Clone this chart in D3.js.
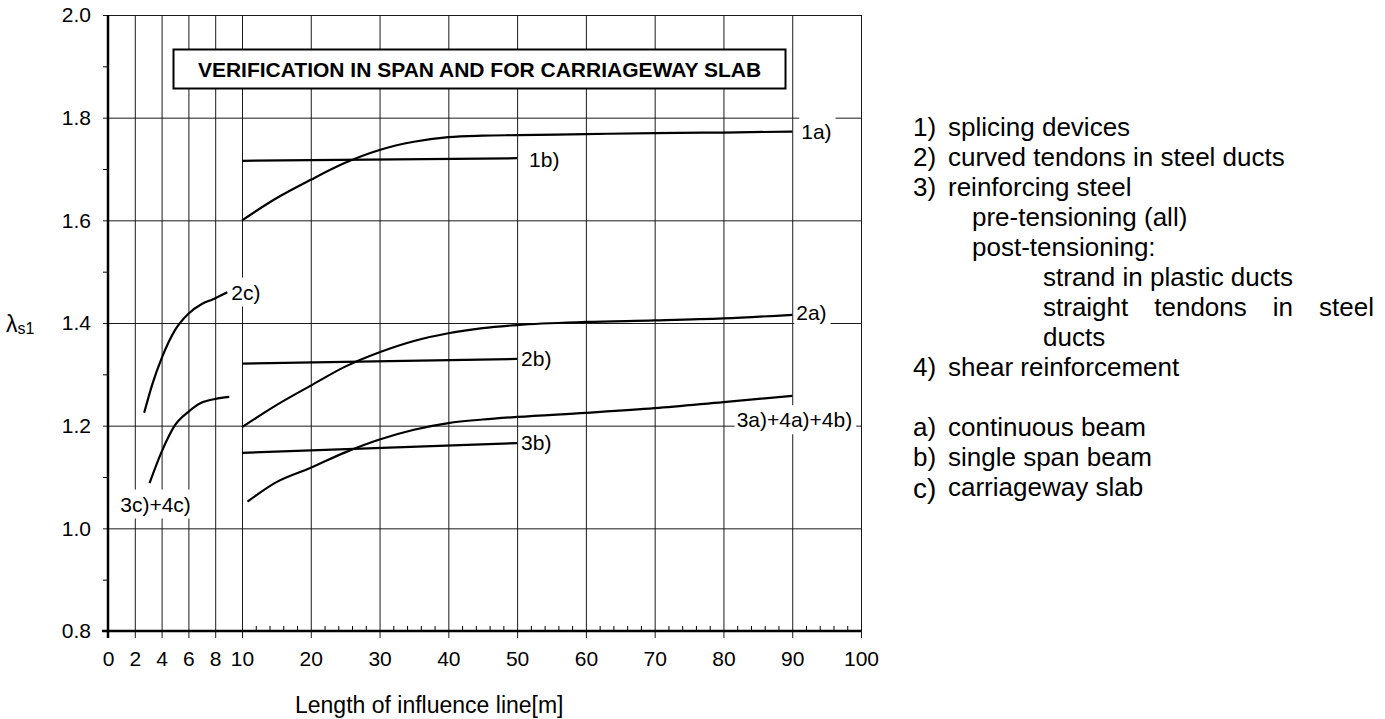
<!DOCTYPE html>
<html>
<head>
<meta charset="utf-8">
<script src="https://cdn.jsdelivr.net/npm/d3@7"></script>
<style>
  body { margin: 0; background: #fff; }
  text { font-family: "Liberation Sans", Arial, Helvetica, sans-serif; fill: #000; }
</style>
</head>
<body>
<svg id="chart" width="1385" height="719"></svg>
<script>
// ---- axis ticks ----
const xTicks = [0, 2, 4, 6, 8, 10, 20, 30, 40, 50, 60, 70, 80, 90, 100];
const yTicks = [0.8, 1.0, 1.2, 1.4, 1.6, 1.8, 2.0];

// ---- curves: [length of influence line (m), lambda_s1] ----
const curve1a = [[10, 1.600], [15, 1.643], [20, 1.679], [25, 1.712], [30, 1.737], [35, 1.753],
                 [40, 1.762], [45, 1.765], [50, 1.766], [60, 1.768], [70, 1.770], [80, 1.771], [90, 1.773]];
const curve1b = [[10, 1.716], [50, 1.721]];
const curve2a = [[10, 1.197], [15, 1.240], [20, 1.278], [25, 1.315], [30, 1.343], [35, 1.365],
                 [40, 1.380], [45, 1.390], [50, 1.396], [60, 1.402], [70, 1.405], [80, 1.409], [90, 1.416]];
const curve2b = [[10, 1.321], [50, 1.330]];
const curve2c = [[2.7, 1.225], [3.3, 1.280], [4, 1.331], [5, 1.386], [6, 1.418], [7, 1.437], [7.8, 1.446], [8.9, 1.460]];
const curve3a = [[10.8, 1.052], [15, 1.090], [20, 1.118], [25, 1.148], [30, 1.173], [35, 1.192],
                 [40, 1.205], [45, 1.212], [50, 1.217], [60, 1.225], [70, 1.234], [80, 1.246], [90, 1.258]];
const curve3b = [[10, 1.147], [50, 1.166]];
const curve3c = [[3.1, 1.088], [4, 1.149], [5, 1.201], [6, 1.227], [7, 1.245], [8, 1.252], [9.05, 1.256]];

const curveNames = ["1a)", "1b)", "2a)", "2b)", "2c)", "3a)+4a)+4b)", "3b)", "3c)+4c)"];
const curveData = [curve1a, curve1b, curve2a, curve2b, curve2c, curve3a, curve3b, curve3c];

const chartTitle = "VERIFICATION IN SPAN AND FOR CARRIAGEWAY SLAB";
const xTitle = "Length of influence line[m]";

// legend rows: marker, text, indent level
const legendMarkers = ["1)", "2)", "3)", "", "", "", "", "", "4)", "", "a)", "b)", "c)"];
const legendTexts = ["splicing devices", "curved tendons in steel ducts", "reinforcing steel",
  "pre-tensioning (all)", "post-tensioning:", "strand in plastic ducts",
  "straight tendons in steel", "ducts", "shear reinforcement", "",
  "continuous beam", "single span beam", "carriageway slab"];
const legendLevels = [0, 0, 0, 1, 1, 2, 2, 2, 0, 0, 0, 0, 0];

// ---- layout ----
const svg = d3.select("#chart");
const plotL = 108, plotR = 861, plotT = 15, plotB = 631;
const x = d3.scaleLinear().domain([0, 10, 100]).range([plotL, 242, plotR]);
const y = d3.scaleLinear().domain([0.8, 2.0]).range([plotB, plotT]);
const FS = 21;      // chart text
const LFS = 26;     // side notes

// vertical grid lines (running slightly below the axis as ticks)
svg.append("g")
  .attr("transform", `translate(0,${plotB + 7})`)
  .call(d3.axisBottom(x).tickValues(xTicks.slice(1)).tickSize(-(plotB + 7 - plotT)).tickSizeOuter(0).tickFormat(""))
  .call(g => g.select(".domain").remove())
  .call(g => g.selectAll("line").attr("stroke", "#1a1a1a").attr("stroke-width", 1));

// horizontal grid lines (running slightly left of the axis as ticks)
svg.append("g")
  .attr("transform", `translate(${plotL - 5},0)`)
  .call(d3.axisLeft(y).tickValues(yTicks).tickSize(-(plotR - plotL + 5)).tickSizeOuter(0).tickFormat(""))
  .call(g => g.select(".domain").remove())
  .call(g => g.selectAll("line").attr("stroke", "#1a1a1a").attr("stroke-width", 1));

// minor ticks on x axis (inside)
const xMinor = d3.range(12, 100, 2).filter(v => v % 10 !== 0);
svg.append("g")
  .attr("transform", `translate(0,${plotB})`)
  .call(d3.axisBottom(x).tickValues(xMinor).tickSize(-5).tickSizeOuter(0).tickFormat(""))
  .call(g => g.select(".domain").remove())
  .call(g => g.selectAll("line").attr("stroke", "#000"));

// minor ticks on y axis (outside)
const yMinor = d3.range(0.9, 2.0, 0.2);
svg.append("g")
  .attr("transform", `translate(${plotL},0)`)
  .call(d3.axisLeft(y).tickValues(yMinor).tickSize(5).tickSizeOuter(0).tickFormat(""))
  .call(g => g.select(".domain").remove())
  .call(g => g.selectAll("line").attr("stroke", "#000"));

// x tick labels
svg.append("g")
  .attr("transform", `translate(0,${plotB})`)
  .call(d3.axisBottom(x).tickValues(xTicks).tickSize(0).tickPadding(20).tickFormat(d3.format("d")))
  .call(g => g.select(".domain").remove())
  .call(g => g.selectAll("text").attr("font-size", FS).attr("font-family", "Liberation Sans, Arial, sans-serif"));

// y tick labels
svg.append("g")
  .attr("transform", `translate(${plotL},0)`)
  .call(d3.axisLeft(y).tickValues(yTicks).tickSize(0).tickPadding(17).tickFormat(d3.format(".1f")))
  .call(g => g.select(".domain").remove())
  .call(g => g.selectAll("text").attr("font-size", FS).attr("font-family", "Liberation Sans, Arial, sans-serif"));

// axis lines
svg.append("line").attr("x1", plotL).attr("x2", plotL).attr("y1", plotT).attr("y2", plotB + 7)
  .attr("stroke", "#000").attr("stroke-width", 2.5);
svg.append("line").attr("x1", plotL - 6).attr("x2", plotR).attr("y1", plotB).attr("y2", plotB)
  .attr("stroke", "#000").attr("stroke-width", 2.5);

// curves
const line = d3.line().x(d => x(d[0])).y(d => y(d[1])).curve(d3.curveMonotoneX);
svg.append("g").selectAll("path").data(curveData).join("path")
  .attr("d", line).attr("fill", "none").attr("stroke", "#000").attr("stroke-width", 2.2)
  .attr("stroke-linecap", "butt");

// curve labels with white backing
const labelPlace = {
  "1a)": { at: "end", dx: 9, dy: 0, anchor: "start" },
  "1b)": { at: "end", dx: 12, dy: 1, anchor: "start" },
  "2a)": { at: "end", dx: 4, dy: -2, anchor: "start" },
  "2b)": { at: "end", dx: 4, dy: 0, anchor: "start" },
  "2c)": { at: "end", dx: 4, dy: 0, anchor: "start" },
  "3a)+4a)+4b)": { at: "end", dx: 60, dy: 24, anchor: "end" },
  "3b)": { at: "end", dx: 4, dy: 0, anchor: "start" },
  "3c)+4c)": { at: "start", dx: 6, dy: 21, anchor: "middle" }
};
const labelLayer = svg.append("g");
curveNames.forEach((name, i) => {
  const pts = curveData[i];
  const p = labelPlace[name];
  const pt = p.at === "end" ? pts[pts.length - 1] : pts[0];
  const g = labelLayer.append("g");
  const t = g.append("text")
    .attr("x", x(pt[0]) + p.dx).attr("y", y(pt[1]) + p.dy)
    .attr("dy", "0.35em").attr("text-anchor", p.anchor)
    .attr("font-size", FS).text(name);
  const b = t.node().getBBox();
  g.insert("rect", "text").attr("x", b.x - 2).attr("y", b.y - 3)
    .attr("width", b.width + 6).attr("height", b.height + 6).attr("fill", "#fff");
});

// title box
const tg = svg.append("g");
tg.append("rect").attr("x", 173.5).attr("y", 49.5).attr("width", 612).attr("height", 39)
  .attr("fill", "#fff").attr("stroke", "#000").attr("stroke-width", 2);
tg.append("text").attr("x", 479.5).attr("y", 76.5).attr("text-anchor", "middle")
  .attr("font-size", FS).attr("font-weight", "bold").text(chartTitle);

// axis titles
svg.append("text").attr("x", 295).attr("y", 713).attr("font-size", 23).text(xTitle);
const yl = svg.append("text").attr("x", 6).attr("y", 332).attr("font-size", 23);
yl.append("tspan").text("λ");
yl.append("tspan").attr("font-size", 16).attr("dy", 2).text("s1");

// side notes
const lg = svg.append("g");
const markerX = 913, indentX = [948, 972, 1043];
// rows whose words are spread out to a fixed right edge
const spreadTo = { "straight tendons in steel": 1374 };
legendTexts.forEach((txt, i) => {
  const yy = 136 + i * 30;
  if (legendMarkers[i]) {
    const big = legendMarkers[i] === "c)";
    lg.append("text").attr("x", markerX).attr("y", big ? yy + 2 : yy)
      .attr("font-size", big ? 28 : LFS).text(legendMarkers[i]);
  }
  if (!txt) return;
  const x0 = indentX[legendLevels[i]];
  if (spreadTo[txt]) {
    const words = txt.split(" ");
    const nodes = words.map(w => lg.append("text").attr("y", yy).attr("font-size", LFS).text(w));
    const widths = nodes.map(n => n.node().getComputedTextLength());
    const gap = (spreadTo[txt] - x0 - d3.sum(widths)) / (words.length - 1);
    let cx = x0;
    nodes.forEach((n, k) => { n.attr("x", cx); cx += widths[k] + gap; });
  } else {
    lg.append("text").attr("x", x0).attr("y", yy).attr("font-size", LFS).text(txt);
  }
});
</script>
</body>
</html>
